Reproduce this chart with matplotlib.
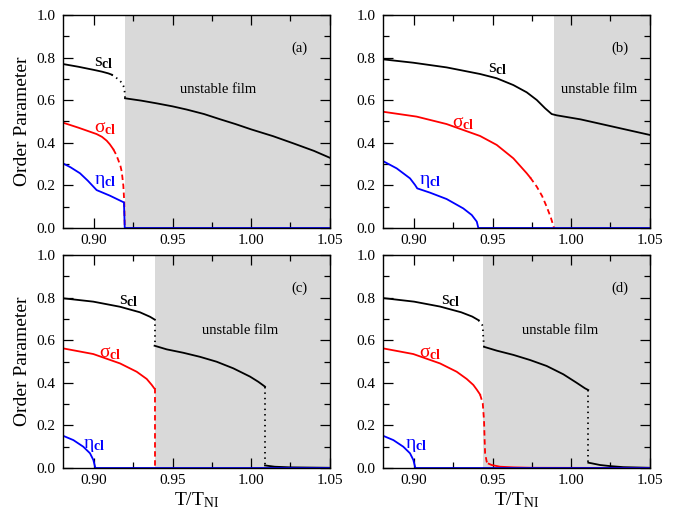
import matplotlib
matplotlib.use("Agg")
import matplotlib.pyplot as plt
from matplotlib.ticker import MultipleLocator, FormatStrFormatter

plt.rcParams['font.family'] = ['Liberation Serif', 'DejaVu Serif']
plt.rcParams['mathtext.fontset'] = 'custom'
plt.rcParams['mathtext.rm'] = 'Liberation Serif'
plt.rcParams['mathtext.it'] = 'Liberation Serif:italic'
plt.rcParams['mathtext.bf'] = 'Liberation Serif:bold'

RED = '#ff0000'
BLUE = '#0000ff'
SHADE = '#d9d9d9'

# start of the shaded "unstable film" region in each panel
t_unstable = {'a': 0.9197, 'b': 0.989, 'c': 0.9385, 'd': 0.9437}

# ---------------- panel (a) ----------------
a_s1_x = [0.880, 0.890, 0.900, 0.905, 0.909, 0.9112]
a_s1_y = [0.770, 0.757, 0.742, 0.734, 0.726, 0.720]
a_s2_x = [0.9112, 0.914, 0.916, 0.9175, 0.9186, 0.9192, 0.9195, 0.9197]
a_s2_y = [0.720, 0.706, 0.694, 0.683, 0.668, 0.655, 0.635, 0.609]
a_s3_x = [0.9197, 0.930, 0.940, 0.950, 0.959, 0.970, 0.980, 0.990, 1.000, 1.014, 1.027, 1.040, 1.050]
a_s3_y = [0.609, 0.598, 0.585, 0.571, 0.556, 0.535, 0.511, 0.488, 0.463, 0.431, 0.397, 0.362, 0.330]
a_sig1_x = [0.880, 0.890, 0.9016, 0.905, 0.908, 0.910, 0.9122]
a_sig1_y = [0.495, 0.471, 0.441, 0.428, 0.410, 0.393, 0.370]
a_sig2_x = [0.9122, 0.914, 0.9154, 0.9168, 0.9176, 0.9186, 0.9192, 0.9195]
a_sig2_y = [0.370, 0.345, 0.319, 0.290, 0.264, 0.200, 0.120, 0.000]
a_eta_x = [0.880, 0.885, 0.891, 0.896, 0.9016, 0.910, 0.919, 0.9195, 1.050]
a_eta_y = [0.304, 0.285, 0.257, 0.222, 0.178, 0.152, 0.120, 0.000, 0.000]

# ---------------- panel (b) ----------------
b_s_x = [0.880, 0.8995, 0.9207, 0.942, 0.9526, 0.9632, 0.9717, 0.9781, 0.9834, 0.9876, 0.9908,
         1.006, 1.050]
b_s_y = [0.792, 0.776, 0.754, 0.723, 0.703, 0.671, 0.637, 0.601, 0.562, 0.535, 0.529,
         0.510, 0.437]
b_sig1_x = [0.880, 0.9016, 0.9207, 0.942, 0.9526, 0.9632, 0.9717, 0.974]
b_sig1_y = [0.546, 0.523, 0.488, 0.432, 0.390, 0.327, 0.257, 0.236]
b_sig2_x = [0.974, 0.9781, 0.9815, 0.9844, 0.987, 0.9891]
b_sig2_y = [0.236, 0.194, 0.150, 0.100, 0.050, 0.000]
b_eta_x = [0.880, 0.8889, 0.8974, 0.9006, 0.902, 0.9101, 0.9207, 0.9313, 0.9367, 0.9399, 0.9409,
           1.050]
b_eta_y = [0.315, 0.280, 0.233, 0.202, 0.186, 0.166, 0.136, 0.092, 0.061, 0.030, 0.000,
           0.000]

# ---------------- panel (c) ----------------
c_s1_x = [0.880, 0.8995, 0.9165, 0.9292, 0.9356, 0.9383]
c_s1_y = [0.797, 0.781, 0.757, 0.731, 0.710, 0.698]
c_s2_x = [0.9385, 0.9385]
c_s2_y = [0.698, 0.574]
c_s3_x = [0.9385, 0.9462, 0.9568, 0.9674, 0.978, 0.9886, 0.9993, 1.0045, 1.0088]
c_s3_y = [0.574, 0.557, 0.541, 0.522, 0.499, 0.468, 0.429, 0.405, 0.382]
c_s4_x = [1.0088, 1.0088]
c_s4_y = [0.382, 0.012]
c_s5_x = [1.0088, 1.015, 1.025, 1.050]
c_s5_y = [0.012, 0.006, 0.003, 0.001]
c_sig1_x = [0.880, 0.8995, 0.9165, 0.9271, 0.9335, 0.9367, 0.9383]
c_sig1_y = [0.562, 0.535, 0.491, 0.452, 0.418, 0.390, 0.374]
c_sig2_x = [0.9385, 0.9385]
c_sig2_y = [0.374, 0.000]
c_eta_x = [0.880, 0.8868, 0.8931, 0.8974, 0.8995, 0.9006, 0.9008, 1.050]
c_eta_y = [0.152, 0.131, 0.100, 0.069, 0.038, 0.006, 0.000, 0.000]

# ---------------- panel (d) ----------------
d_s1_x = [0.880, 0.900, 0.9165, 0.930, 0.937, 0.941]
d_s1_y = [0.798, 0.781, 0.758, 0.731, 0.711, 0.694]
d_s2_x = [0.941, 0.9437, 0.944, 0.9445]
d_s2_y = [0.694, 0.668, 0.620, 0.569]
d_s3_x = [0.9445, 0.9526, 0.9632, 0.9738, 0.9844, 0.995, 1.0035, 1.0088, 1.0109]
d_s3_y = [0.569, 0.551, 0.531, 0.507, 0.479, 0.440, 0.400, 0.374, 0.366]
d_s4_x = [1.0109, 1.0109]
d_s4_y = [0.366, 0.025]
d_s5_x = [1.0109, 1.0131, 1.0184, 1.0247, 1.0332, 1.050]
d_s5_y = [0.025, 0.022, 0.014, 0.009, 0.004, 0.001]
d_sig1_x = [0.880, 0.8995, 0.9165, 0.9271, 0.9335, 0.9377, 0.9399, 0.942]
d_sig1_y = [0.562, 0.535, 0.491, 0.452, 0.418, 0.390, 0.368, 0.345]
d_sig2_x = [0.942, 0.9437, 0.9445, 0.9449, 0.9452, 0.9462, 0.9475]
d_sig2_y = [0.345, 0.304, 0.225, 0.131, 0.069, 0.030, 0.020]
d_sig3_x = [0.9475, 0.9494, 0.9547, 0.9632, 0.975, 1.050]
d_sig3_y = [0.020, 0.014, 0.006, 0.003, 0.001, 0.000]
d_eta_x = [0.880, 0.8868, 0.8931, 0.8974, 0.8995, 0.9006, 0.9008, 1.050]
d_eta_y = [0.152, 0.131, 0.100, 0.069, 0.038, 0.006, 0.000, 0.000]

# label positions (data coords)
label_pos = {
    'a': {'s': (0.906, 0.776), 'sig': (0.907, 0.469), 'eta': (0.907, 0.217), 'film': (0.979, 0.651)},
    'b': {'s': (0.953, 0.749), 'sig': (0.931, 0.490), 'eta': (0.910, 0.216), 'film': (1.018, 0.650)},
    'c': {'s': (0.922, 0.788), 'sig': (0.910, 0.538), 'eta': (0.900, 0.107), 'film': (0.993, 0.647)},
    'd': {'s': (0.923, 0.788), 'sig': (0.910, 0.538), 'eta': (0.901, 0.107), 'film': (0.993, 0.647)},
}

# (x, y, color, style) segments per panel
segments = {
    'a': [(a_s1_x, a_s1_y, 'k', '-'), (a_s2_x, a_s2_y, 'k', ':'), (a_s3_x, a_s3_y, 'k', '-'),
          (a_sig1_x, a_sig1_y, RED, '-'), (a_sig2_x, a_sig2_y, RED, '--'),
          (a_eta_x, a_eta_y, BLUE, '-')],
    'b': [(b_s_x, b_s_y, 'k', '-'),
          (b_sig1_x, b_sig1_y, RED, '-'), (b_sig2_x, b_sig2_y, RED, '--'),
          (b_eta_x, b_eta_y, BLUE, '-')],
    'c': [(c_s1_x, c_s1_y, 'k', '-'), (c_s2_x, c_s2_y, 'k', ':'), (c_s3_x, c_s3_y, 'k', '-'),
          (c_s4_x, c_s4_y, 'k', ':'), (c_s5_x, c_s5_y, 'k', '-'),
          (c_sig1_x, c_sig1_y, RED, '-'), (c_sig2_x, c_sig2_y, RED, '--'),
          (c_eta_x, c_eta_y, BLUE, '-')],
    'd': [(d_s1_x, d_s1_y, 'k', '-'), (d_s2_x, d_s2_y, 'k', ':'), (d_s3_x, d_s3_y, 'k', '-'),
          (d_s4_x, d_s4_y, 'k', ':'), (d_s5_x, d_s5_y, 'k', '-'),
          (d_sig1_x, d_sig1_y, RED, '-'), (d_sig2_x, d_sig2_y, RED, '--'),
          (d_sig3_x, d_sig3_y, RED, '-'),
          (d_eta_x, d_eta_y, BLUE, '-')],
}

fig = plt.figure(figsize=(6.85, 5.11), dpi=100)
W, H = 685.0, 511.0
rects = {
    'a': [62.7 / W, 1 - 228 / H, 267 / W, 213 / H],
    'b': [382.7 / W, 1 - 228 / H, 267 / W, 213 / H],
    'c': [62.7 / W, 1 - 468 / H, 267 / W, 213 / H],
    'd': [382.7 / W, 1 - 468 / H, 267 / W, 213 / H],
}

for key in ['a', 'b', 'c', 'd']:
    ax = fig.add_axes(rects[key])
    ax.axvspan(t_unstable[key], 1.05, color=SHADE, lw=0, zorder=0)
    # sigma stays at zero in the disordered region
    ax.plot([t_unstable[key], 1.05], [0, 0], color=RED, lw=0.8, zorder=1)
    for x, y, c, ls in segments[key]:
        if ls == '--':
            ax.plot(x, y, color=c, lw=1.3, dashes=(3, 2), zorder=2)
        elif ls == ':':
            ax.plot(x, y, color=c, lw=1.3, dashes=(0.8, 2.2), zorder=2)
        else:
            ax.plot(x, y, color=c, lw=1.3, zorder=2, solid_joinstyle='round')

    lp = label_pos[key]
    ax.text(*lp['s'], r'$\mathrm{s}_{\mathbf{cl}}$', color='k', fontsize=14, ha='center', va='center')
    ax.text(*lp['sig'], r'$\mathrm{σ}_{\mathbf{cl}}$', color=RED, fontsize=14, ha='center', va='center')
    ax.text(*lp['eta'], r'$\mathrm{η}_{\mathbf{cl}}$', color=BLUE, fontsize=14, ha='center', va='center')
    ax.text(*lp['film'], 'unstable film', fontsize=10.5, ha='center', va='center')
    ax.text(1.031, 0.843, '(%s)' % key, fontsize=10.5, ha='center', va='center')

    ax.set_xlim(0.88, 1.05)
    ax.set_ylim(0.0, 1.0)
    ax.xaxis.set_major_locator(MultipleLocator(0.05))
    ax.xaxis.set_minor_locator(MultipleLocator(0.025))
    ax.yaxis.set_major_locator(MultipleLocator(0.2))
    ax.yaxis.set_minor_locator(MultipleLocator(0.1))
    ax.xaxis.set_major_formatter(FormatStrFormatter('%.2f'))
    ax.yaxis.set_major_formatter(FormatStrFormatter('%.1f'))
    ax.tick_params(which='both', direction='in', top=True, right=True, labelsize=11)
    ax.tick_params(which='major', length=7, width=0.9)
    ax.tick_params(which='minor', length=4, width=0.9)
    ax.tick_params(axis='y', pad=5)
    ax.tick_params(axis='x', pad=4)
    for sp in ax.spines.values():
        sp.set_linewidth(1.0)

    if key in ('a', 'c'):
        ax.set_ylabel('Order Parameter', fontsize=14, labelpad=4)
    if key in ('c', 'd'):
        ax.set_xlabel(r'$\mathrm{T/T}_{\mathrm{NI}}$', fontsize=14, labelpad=3)

fig.savefig('out.png', dpi=100)
